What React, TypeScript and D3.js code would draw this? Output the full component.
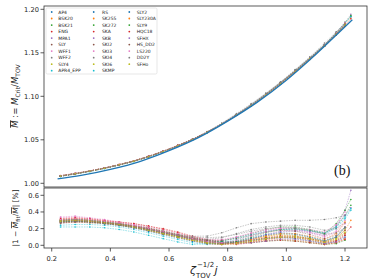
import * as d3 from "d3";

// EOS names in legend order (3 columns, filled column-wise)
const eosNames = [
  "AP4", "BSK20", "BSK21", "ENG", "MPA1", "SLY", "WFF1", "WFF2", "SLY4", "APR4_EPP",
  "RS", "SK255", "SK272", "SKA", "SKB", "SKI2", "SKI3", "SKI4", "SKI6", "SKMP",
  "SLY2", "SLY230A", "SLY9", "HQC18", "SFHX", "HS_DD2", "LS220", "DD2Y", "SFHo",
];

const tab10 = [
  "#1f77b4", "#ff7f0e", "#2ca02c", "#d62728", "#9467bd",
  "#8c564b", "#e377c2", "#7f7f7f", "#bcbd22", "#17becf",
];

// sampled zeta^{-1/2} j positions
const zetaGrid = [
  0.23, 0.28, 0.33, 0.38, 0.43, 0.48, 0.53, 0.58, 0.63, 0.68, 0.73,
  0.78, 0.83, 0.88, 0.93, 0.98, 1.03, 1.08, 1.13, 1.17, 1.2, 1.22,
];

// universal fit curve M_crit / M_TOV
const fitX = [0.22, 0.3, 0.4, 0.5, 0.6, 0.7, 0.8, 0.9, 1.0, 1.1, 1.2, 1.225];
const fitY = [1.005, 1.009, 1.016, 1.025, 1.0375, 1.0525, 1.0715, 1.093, 1.1185, 1.148, 1.18, 1.188];

// |1 - Mfit/M| in percent, one row per EOS
const residuals: number[][] = [
  [0.30, 0.31, 0.30, 0.28, 0.26, 0.23, 0.20, 0.16, 0.12, 0.08, 0.04, 0.03, 0.05, 0.09, 0.13, 0.15, 0.14, 0.10, 0.06, 0.10, 0.22],
  [0.27, 0.28, 0.27, 0.26, 0.24, 0.21, 0.18, 0.14, 0.10, 0.06, 0.03, 0.02, 0.04, 0.07, 0.10, 0.12, 0.11, 0.08, 0.04, 0.08, 0.18, 0.30],
  [0.29, 0.30, 0.29, 0.27, 0.25, 0.22, 0.19, 0.15, 0.11, 0.07, 0.04, 0.05, 0.09, 0.14, 0.19, 0.22, 0.22, 0.19, 0.15, 0.22, 0.36, 0.48],
  [0.31, 0.32, 0.31, 0.29, 0.28, 0.26, 0.23, 0.20, 0.16, 0.11, 0.07, 0.05, 0.04, 0.06, 0.09, 0.11, 0.11, 0.08, 0.04, 0.06, 0.14, 0.22],
  [0.28, 0.29, 0.29, 0.27, 0.25, 0.22, 0.19, 0.15, 0.11, 0.07, 0.03, 0.01, 0.03, 0.07, 0.12, 0.16, 0.17, 0.15, 0.12, 0.22, 0.42, 0.66],
  [0.28, 0.29, 0.28, 0.26, 0.24, 0.21, 0.17, 0.13, 0.09, 0.05, 0.02, 0.01, 0.03, 0.06, 0.09, 0.10, 0.09, 0.06, 0.02, 0.05, 0.12],
  [0.33, 0.34, 0.32, 0.30, 0.27, 0.24, 0.20, 0.16, 0.12, 0.08, 0.05, 0.06, 0.10, 0.15, 0.19, 0.21, 0.20, 0.16, 0.11, 0.17, 0.30],
  [0.26, 0.28, 0.28, 0.27, 0.25, 0.22, 0.19, 0.16, 0.13, 0.11, 0.11, 0.15, 0.21, 0.26, 0.28, 0.29, 0.30, 0.30, 0.31, 0.33, 0.36],
  [0.29, 0.30, 0.29, 0.27, 0.25, 0.22, 0.18, 0.14, 0.10, 0.06, 0.03, 0.02, 0.04, 0.08, 0.11, 0.13, 0.12, 0.09, 0.05, 0.10, 0.20],
  [0.22, 0.22, 0.22, 0.21, 0.19, 0.16, 0.12, 0.08, 0.04, 0.01, 0.02, 0.05, 0.09, 0.13, 0.17, 0.19, 0.19, 0.17, 0.14, 0.20, 0.32, 0.42],
  [0.30, 0.31, 0.30, 0.28, 0.26, 0.24, 0.21, 0.17, 0.13, 0.09, 0.06, 0.04, 0.04, 0.06, 0.08, 0.09, 0.08, 0.05, 0.02, 0.04, 0.10],
  [0.31, 0.32, 0.31, 0.29, 0.27, 0.24, 0.21, 0.17, 0.13, 0.09, 0.05, 0.03, 0.02, 0.04, 0.06, 0.07, 0.06, 0.04, 0.01, 0.03, 0.08],
  [0.30, 0.31, 0.30, 0.28, 0.26, 0.23, 0.20, 0.17, 0.13, 0.09, 0.06, 0.04, 0.03, 0.03, 0.05, 0.06, 0.05, 0.03, 0.01, 0.02, 0.06],
  [0.32, 0.33, 0.32, 0.30, 0.28, 0.26, 0.23, 0.19, 0.15, 0.10, 0.06, 0.03, 0.02, 0.04, 0.07, 0.09, 0.09, 0.07, 0.03, 0.05, 0.12],
  [0.29, 0.30, 0.29, 0.27, 0.25, 0.22, 0.19, 0.15, 0.11, 0.07, 0.04, 0.02, 0.04, 0.08, 0.13, 0.17, 0.18, 0.17, 0.14, 0.24, 0.36, 0.45],
  [0.30, 0.31, 0.30, 0.28, 0.26, 0.23, 0.20, 0.16, 0.12, 0.08, 0.05, 0.03, 0.03, 0.05, 0.08, 0.10, 0.10, 0.08, 0.05, 0.09, 0.18],
  [0.34, 0.35, 0.33, 0.31, 0.28, 0.25, 0.22, 0.18, 0.14, 0.10, 0.07, 0.07, 0.10, 0.14, 0.18, 0.20, 0.19, 0.15, 0.10, 0.15, 0.26],
  [0.28, 0.29, 0.28, 0.26, 0.24, 0.21, 0.18, 0.14, 0.11, 0.08, 0.07, 0.09, 0.14, 0.19, 0.22, 0.24, 0.24, 0.22, 0.18, 0.20, 0.27],
  [0.30, 0.31, 0.30, 0.28, 0.26, 0.23, 0.20, 0.16, 0.12, 0.08, 0.04, 0.02, 0.02, 0.05, 0.08, 0.10, 0.10, 0.07, 0.03, 0.07, 0.16],
  [0.24, 0.25, 0.25, 0.24, 0.22, 0.19, 0.15, 0.11, 0.07, 0.03, 0.01, 0.03, 0.07, 0.12, 0.16, 0.19, 0.20, 0.18, 0.15, 0.22, 0.34, 0.44],
  [0.28, 0.29, 0.28, 0.26, 0.24, 0.21, 0.17, 0.13, 0.09, 0.05, 0.02, 0.01, 0.04, 0.08, 0.12, 0.14, 0.13, 0.10, 0.05, 0.10, 0.21],
  [0.29, 0.30, 0.29, 0.27, 0.25, 0.22, 0.18, 0.14, 0.10, 0.06, 0.02, 0.01, 0.03, 0.07, 0.11, 0.14, 0.14, 0.11, 0.07, 0.14, 0.28],
  [0.28, 0.29, 0.28, 0.27, 0.25, 0.22, 0.19, 0.15, 0.11, 0.07, 0.03, 0.02, 0.05, 0.10, 0.15, 0.19, 0.20, 0.18, 0.14, 0.26, 0.42, 0.55],
  [0.27, 0.28, 0.28, 0.27, 0.25, 0.23, 0.20, 0.16, 0.12, 0.08, 0.04, 0.02, 0.01, 0.03, 0.05, 0.06, 0.05, 0.03, 0.01, 0.03, 0.07],
  [0.30, 0.31, 0.30, 0.28, 0.26, 0.23, 0.20, 0.16, 0.12, 0.08, 0.05, 0.03, 0.02, 0.03, 0.05, 0.07, 0.07, 0.05, 0.02, 0.04, 0.09],
  [0.29, 0.30, 0.29, 0.27, 0.25, 0.22, 0.19, 0.15, 0.12, 0.08, 0.06, 0.06, 0.08, 0.12, 0.16, 0.18, 0.17, 0.13, 0.08, 0.12, 0.22],
  [0.31, 0.32, 0.31, 0.29, 0.27, 0.24, 0.20, 0.16, 0.12, 0.08, 0.04, 0.03, 0.06, 0.11, 0.16, 0.20, 0.21, 0.19, 0.16, 0.25, 0.40],
  [0.27, 0.28, 0.27, 0.26, 0.24, 0.21, 0.18, 0.15, 0.12, 0.10, 0.09, 0.10, 0.13, 0.17, 0.20, 0.22, 0.21, 0.18, 0.13, 0.15, 0.21],
  [0.29, 0.30, 0.29, 0.27, 0.25, 0.22, 0.18, 0.14, 0.10, 0.06, 0.03, 0.01, 0.02, 0.05, 0.08, 0.10, 0.10, 0.08, 0.04, 0.08, 0.15],
];

const xTicks = [0.2, 0.4, 0.6, 0.8, 1.0, 1.2];
const topTicks = [1.0, 1.05, 1.1, 1.15, 1.2];
const botTicks = [0.0, 0.2, 0.4, 0.6];

const FONT = "DejaVu Sans, sans-serif";

export default function App() {
  const left = 44, right = 367;
  const topY0 = 6, topY1 = 187, botY0 = 188, botY1 = 248;

  const x = d3.scaleLinear().domain([0.1737, 1.275]).range([left, right]);
  const yTop = d3.scaleLinear().domain([0.99575, 1.2038]).range([topY1, topY0]);
  const yBot = d3.scaleLinear().domain([-0.0324, 0.6876]).range([botY1, botY0]);
  const fitAt = d3.scaleLinear().domain(fitX).range(fitY);

  const series = residuals.map((res, i) =>
    res.map((r, j) => ({ x: zetaGrid[j], r, m: fitAt(zetaGrid[j]) / (1 - r / 100) }))
  );

  const lineTop = d3.line<{ x: number; m: number }>().x(d => x(d.x)).y(d => yTop(d.m));
  const lineBot = d3.line<{ x: number; r: number }>().x(d => x(d.x)).y(d => yBot(d.r));
  const fitLine = d3.line<number>()
    .x((_, i) => x(fitX[i]))
    .y(d => yTop(d))
    .curve(d3.curveMonotoneX);

  const color = (i: number) => tab10[i % 10];

  return (
    <svg width={374} height={280} style={{ position: "absolute", left: 0, top: 0, background: "#fff" }}
      fontFamily={FONT}>
      <defs>
        <clipPath id="clipTop"><rect x={left} y={topY0} width={right - left} height={topY1 - topY0} /></clipPath>
        <clipPath id="clipBot"><rect x={left} y={botY0} width={right - left} height={botY1 - botY0} /></clipPath>
      </defs>

      {/* top panel */}
      <g clipPath="url(#clipTop)">
        {series.map((s, i) => (
          <g key={i}>
            <path d={lineTop(s) || ""} fill="none" stroke={color(i)} strokeWidth={0.4}
              strokeDasharray="1.5,1" opacity={0.7} />
            {s.map((p, j) => (
              <circle key={j} cx={x(p.x)} cy={yTop(p.m)} r={0.8} fill={color(i)} />
            ))}
          </g>
        ))}
        <path d={fitLine(fitY) || ""} fill="none" stroke="#1f77b4" strokeWidth={1.3} />
      </g>
      <rect x={left} y={topY0} width={right - left} height={topY1 - topY0} fill="none" stroke="#333" strokeWidth={0.8} />
      {topTicks.map(t => (
        <g key={t} transform={`translate(${left},${yTop(t)})`}>
          <line x1={-3.5} x2={0} stroke="#333" strokeWidth={0.8} />
          <text x={-5} dy="0.35em" textAnchor="end" fontSize={6.7} fill="#222">{t.toFixed(2)}</text>
        </g>
      ))}

      {/* legend */}
      <rect x={46} y={8} width={111} height={66} rx={1.5} fill="#fff" fillOpacity={0.8} stroke="#d6d6d6" strokeWidth={0.6} />
      {eosNames.map((name, i) => {
        const col = Math.floor(i / 10), row = i % 10;
        const mx = [51.7, 93.7, 129.3][col];
        const tx = [58.3, 102, 136.7][col];
        const cy = 12 + row * 6.52;
        return (
          <g key={name}>
            <circle cx={mx} cy={cy} r={0.9} fill={color(i)} />
            <text x={tx} y={cy} dy="0.35em" fontSize={4.5} fill="#222">{name}</text>
          </g>
        );
      })}

      <text x={334} y={175} fontFamily="Liberation Serif, serif" fontSize={14} fill="#111">(b)</text>

      <text transform={`translate(18,96) rotate(-90)`} textAnchor="middle" fontSize={8.5} fill="#222">
        <tspan fontStyle="italic" style={{ textDecoration: "overline" }}>M</tspan>
        <tspan> := </tspan>
        <tspan fontStyle="italic">M</tspan>
        <tspan fontSize={6} dy={2}>Crit</tspan>
        <tspan dy={-2}>/</tspan>
        <tspan fontStyle="italic">M</tspan>
        <tspan fontSize={6} dy={2}>TOV</tspan>
      </text>

      {/* bottom panel */}
      <g clipPath="url(#clipBot)">
        {series.map((s, i) => (
          <g key={i}>
            <path d={lineBot(s) || ""} fill="none" stroke={color(i)} strokeWidth={0.5}
              strokeDasharray="1.6,1" opacity={0.85} />
            {s.map((p, j) => (
              <circle key={j} cx={x(p.x)} cy={yBot(p.r)} r={0.8} fill={color(i)} />
            ))}
          </g>
        ))}
      </g>
      <rect x={left} y={botY0} width={right - left} height={botY1 - botY0} fill="none" stroke="#333" strokeWidth={0.8} />
      {botTicks.map(t => (
        <g key={t} transform={`translate(${left},${yBot(t)})`}>
          <line x1={-3.5} x2={0} stroke="#333" strokeWidth={0.8} />
          <text x={-5} dy="0.35em" textAnchor="end" fontSize={6.7} fill="#222">{t.toFixed(1)}</text>
        </g>
      ))}
      {xTicks.map(t => (
        <g key={t} transform={`translate(${x(t)},${botY1})`}>
          <line y1={0} y2={3.5} stroke="#333" strokeWidth={0.8} />
          <text y={12.5} textAnchor="middle" fontSize={6.7} fill="#222">{t.toFixed(1)}</text>
        </g>
      ))}

      <text transform={`translate(18,218) rotate(-90)`} textAnchor="middle" fontSize={7.5} fill="#222">
        <tspan>|1 − </tspan>
        <tspan fontStyle="italic" style={{ textDecoration: "overline" }}>M</tspan>
        <tspan fontSize={5.3} dy={1.8}>fit</tspan>
        <tspan dy={-1.8}>/</tspan>
        <tspan fontStyle="italic" style={{ textDecoration: "overline" }}>M</tspan>
        <tspan>| [%]</tspan>
      </text>

      {/* x label */}
      <g fill="#222">
        <text x={190} y={274} fontSize={11} fontStyle="italic">ζ</text>
        <text x={197} y={266.5} fontSize={7}>−1/2</text>
        <text x={196} y={277.5} fontSize={7}>TOV</text>
        <text x={214.5} y={274} fontSize={11} fontStyle="italic">j</text>
      </g>
    </svg>
  );
}
